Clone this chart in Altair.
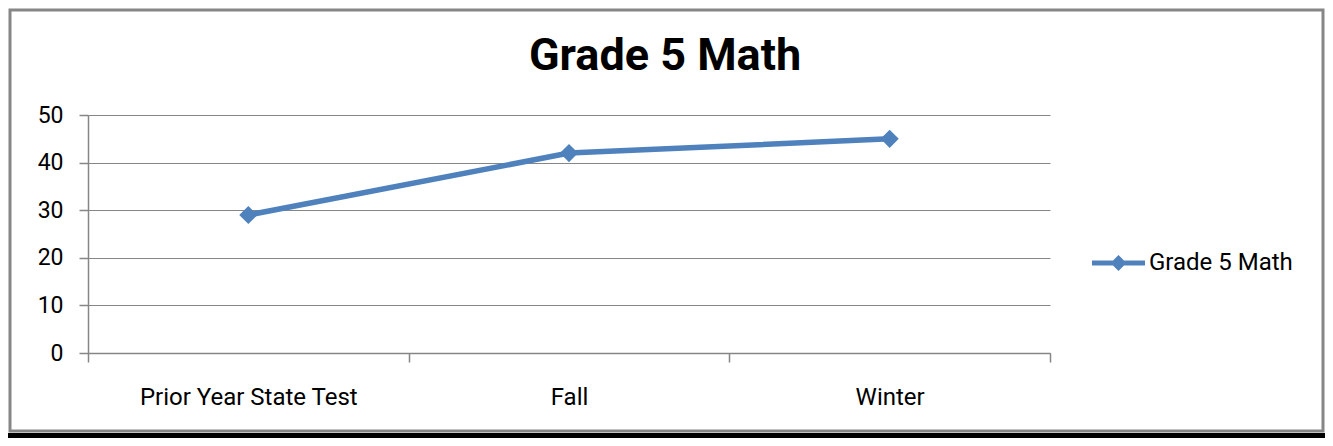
import altair as alt
import pandas as pd

categories = ["Prior Year State Test", "Fall", "Winter"]
values = [29, 42, 45]
series = ["Grade 5 Math", "Grade 5 Math", "Grade 5 Math"]
y_ticks = [0, 10, 20, 30, 40, 50]
title_text = "Grade 5 Math"

df = pd.DataFrame({"test": categories, "score": values, "series": series})
frame_df = pd.DataFrame({"k": [0]})

FONT = "Roboto"
BLUE = "#4F81BD"
GRAY = "#868686"
W, H = 962, 238
LEG_PATH = "M-1,-0.09L1,-0.09L1,0.09L-1,0.09Z M0,-0.3L0.3,0L0,0.3L-0.3,0Z"

x = alt.X(
    "test:N", sort=categories, title=None,
    scale=alt.Scale(type="band", paddingInner=0, paddingOuter=0),
    axis=alt.Axis(labelAngle=0, tickBand="extent", tickSize=9, domainColor=GRAY,
                  tickColor=GRAY, domainWidth=1.5, tickWidth=1.5, labelFontSize=24,
                  labelFont=FONT, labelColor="#000", labelPadding=23, labelLimit=500,
                  grid=False),
)
y = alt.Y(
    "score:Q", title=None, scale=alt.Scale(domain=[0, 50]),
    axis=alt.Axis(values=y_ticks, tickSize=9, domainColor=GRAY, tickColor=GRAY,
                  gridColor=GRAY, gridWidth=1.2, domainWidth=1.5, tickWidth=1.5,
                  labelFontSize=23, labelFont=FONT, labelColor="#000", labelPadding=16),
)

base = alt.Chart(df)
line = base.mark_line(strokeWidth=5.5, color=BLUE).encode(x=x, y=y)
points = base.mark_point(shape="diamond", filled=True, size=330, opacity=1).encode(
    x=x, y=y,
    color=alt.Color(
        "series:N", scale=alt.Scale(range=[BLUE]),
        legend=alt.Legend(title=None, orient="none", legendX=1004, legendY=121.5,
                          padding=0, symbolType=LEG_PATH, symbolSize=2809,
                          symbolStrokeWidth=0, labelFontSize=24, labelFont=FONT,
                          labelColor="#000", labelOffset=4, labelLimit=400),
    ),
)

title = alt.Chart(frame_df).mark_text(
    text=title_text, font=FONT, fontSize=45, fontWeight="bold", color="#000",
    align="center", baseline="alphabetic",
).encode(x=alt.value(577), y=alt.value(-45))

border = alt.Chart(frame_df).mark_rect(fillOpacity=0, stroke=GRAY, strokeWidth=3).encode(
    x=alt.value(-78), x2=alt.value(1235), y=alt.value(-105), y2=alt.value(316)
)
shadow = alt.Chart(frame_df).mark_rect(color="#000").encode(
    x=alt.value(-80), x2=alt.value(1237), y=alt.value(318), y2=alt.value(323)
)

chart = alt.layer(border, shadow, title, line, points).properties(
    width=W, height=H,
    autosize=alt.AutoSizeParams(type="none"),
    padding={"left": 80, "top": 107, "right": 275, "bottom": 85},
).configure_view(strokeWidth=0)

chart.save("out.html", embed_options={"renderer": "svg", "actions": False})
